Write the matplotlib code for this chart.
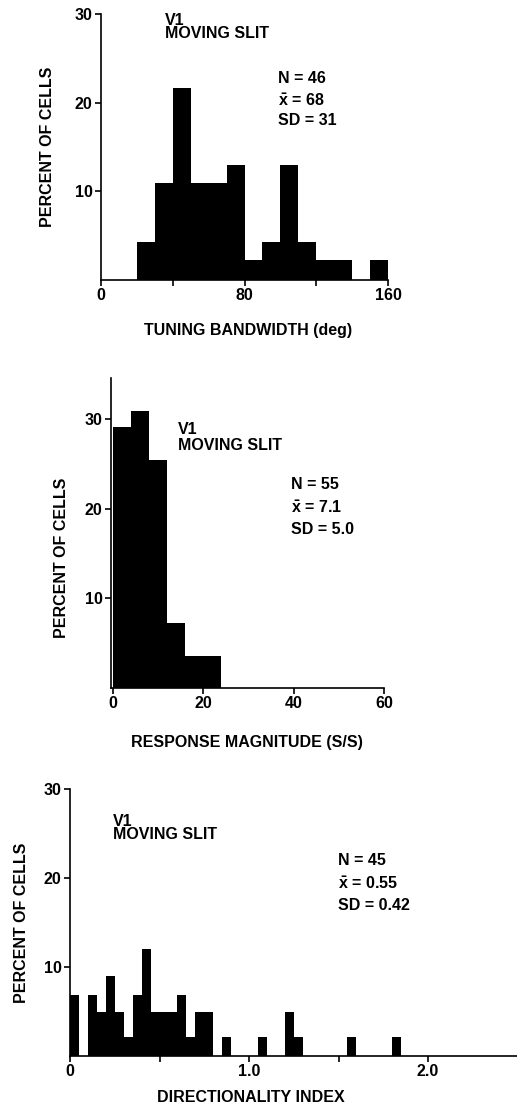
import matplotlib
matplotlib.use("Agg")
import matplotlib.pyplot as plt

plt.rcParams['font.family'] = ['Liberation Sans', 'DejaVu Sans']
plt.rcParams['font.weight'] = 'bold'
plt.rcParams['font.size'] = 11.5
plt.rcParams['mathtext.fontset'] = 'custom'
plt.rcParams['mathtext.rm'] = 'Liberation Sans:bold'
plt.rcParams['mathtext.bf'] = 'Liberation Sans:bold'
plt.rcParams['mathtext.it'] = 'Liberation Sans:bold'

W, H = 517, 1113

# tuning bandwidth (deg), 10 deg bins
bw_left = [20, 30, 40, 50, 60, 70, 80, 90, 100, 110, 120, 130, 140, 150]
bw_pct = [4.3, 10.9, 21.7, 10.9, 10.9, 13.0, 2.2, 4.3, 13.0, 4.3, 2.2, 2.2, 0, 2.2]

# response magnitude (S/S), 4 S/S bins
rm_left = [0, 4, 8, 12, 16, 20]
rm_pct = [29.1, 30.9, 25.5, 7.3, 3.6, 3.6]

# directionality index, 0.05 bins (empty bins left out)
di_left = [0.00, 0.10, 0.15, 0.20, 0.25, 0.30, 0.35, 0.40, 0.45, 0.50, 0.55,
           0.60, 0.65, 0.70, 0.75, 0.85, 1.05, 1.20, 1.25, 1.55, 1.80]
di_pct = [6.9, 6.9, 5.0, 9.0, 5.0, 2.1, 6.9, 12.0, 5.0, 5.0, 5.0,
          6.9, 2.1, 5.0, 5.0, 2.1, 2.1, 5.0, 2.1, 2.1, 2.1]

xbar = r"$\bar{\mathrm{x}}$"
stats1 = ["N = 46", xbar + " = 68", "SD = 31"]
stats2 = ["N = 55", xbar + " = 7.1", "SD = 5.0"]
stats3 = ["N = 45", xbar + " = 0.55", "SD = 0.42"]


def box(l, r, t, b):
    # pixel box -> figure fraction rect
    return [l / W, 1 - b / H, (r - l) / W, (b - t) / H]


def px(x, y):
    return x / W, 1 - y / H


def style(ax):
    for s in ['top', 'right']:
        ax.spines[s].set_visible(False)
    for s in ['left', 'bottom']:
        ax.spines[s].set_linewidth(1.2)
    ax.tick_params(direction='out', length=4, width=1.2, pad=2, labelsize=11.5)


def labels(x, y_top, lines, gaps):
    y = y_top
    for txt, g in zip(lines, gaps):
        fig.text(*px(x, y), txt, va='top', ha='left')
        y += g


fig = plt.figure(figsize=(W / 100, H / 100), dpi=100)

# panel 1
ax1 = fig.add_axes(box(101, 388, 14, 280))
ax1.bar(bw_left, bw_pct, width=10, align='edge', color='black', linewidth=0)
ax1.set_xlim(0, 160)
ax1.set_ylim(0, 30)
ax1.set_xticks([0, 40, 80, 120, 160])
ax1.set_xticklabels(['0', '', '80', '', '160'])
ax1.set_yticks([10, 20, 30])
style(ax1)
labels(165, 13, ["V1", "MOVING SLIT"], [13, 0])
labels(278, 71, stats1, [21, 21, 0])
fig.text(*px(248, 331), "TUNING BANDWIDTH (deg)", ha='center', va='center')
fig.text(*px(48, 147), "PERCENT OF CELLS", ha='center', va='center', rotation=90)

# panel 2
ax2 = fig.add_axes(box(111, 384, 378, 688))
ax2.bar(rm_left, rm_pct, width=4, align='edge', color='black', linewidth=0)
ax2.set_xlim(-0.4, 60)
ax2.set_ylim(0, 34.6)
ax2.set_xticks([0, 20, 40, 60])
ax2.set_yticks([10, 20, 30])
style(ax2)
labels(178, 422, ["V1", "MOVING SLIT"], [16, 0])
labels(291, 477, stats2, [22, 23, 0])
fig.text(*px(247, 742), "RESPONSE MAGNITUDE (S/S)", ha='center', va='center')
fig.text(*px(62, 558), "PERCENT OF CELLS", ha='center', va='center', rotation=90)

# panel 3
ax3 = fig.add_axes(box(70, 517.5, 789, 1056))
ax3.bar(di_left, di_pct, width=0.05, align='edge', color='black', linewidth=0)
ax3.set_xlim(0, 2.5)
ax3.set_ylim(0, 30)
ax3.set_xticks([0, 0.5, 1.0, 1.5, 2.0])
ax3.set_xticklabels(['0', '', '1.0', '', '2.0'])
ax3.set_yticks([10, 20, 30])
style(ax3)
labels(113, 814, ["V1", "MOVING SLIT"], [13, 0])
labels(338, 853, stats3, [22, 23, 0])
fig.text(*px(251, 1098), "DIRECTIONALITY INDEX", ha='center', va='center')
fig.text(*px(22, 923), "PERCENT OF CELLS", ha='center', va='center', rotation=90)

fig.savefig("out.png", dpi=100)
